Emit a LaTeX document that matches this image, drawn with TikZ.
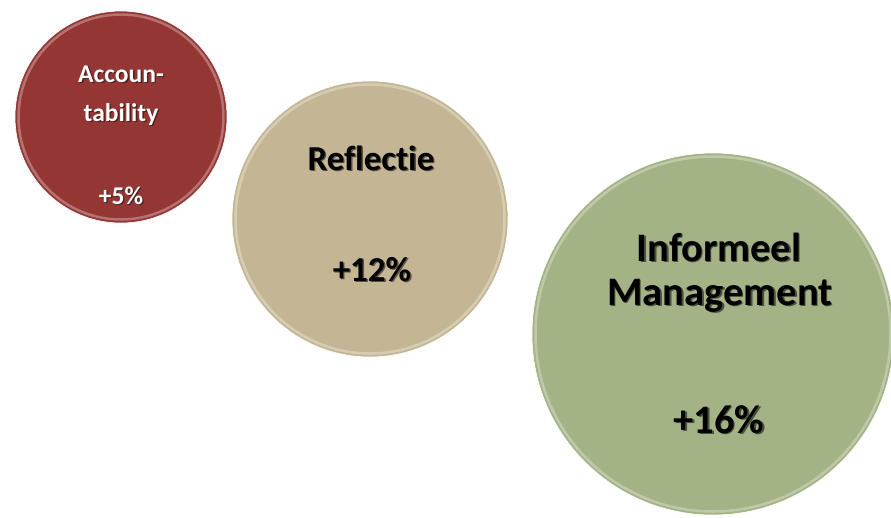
\documentclass[tikz,border=0pt]{standalone}
\usepackage{fontspec}
\setmainfont{Carlito}[Ligatures=NoCommon]
\usetikzlibrary{positioning}

\definecolor{accred}{RGB}{148,54,52}
\definecolor{refltan}{RGB}{196,182,148}
\definecolor{infogreen}{RGB}{163,179,134}

\tikzstyle{bubble} = [circle, inner sep=0pt, outer sep=0pt, draw=white, line width=0.6pt]
\tikzstyle{rim} = [circle, inner sep=0pt, draw=white, draw opacity=0.3, line width=2.5pt]
\tikzstyle{caption} = [anchor=base, inner sep=0pt, font=\bfseries]

% text with a soft offset shadow behind it
\newcommand{\glow}[2]{{\color{#1}\rlap{\kern1.4pt\raisebox{-1.4pt}{#2}}}#2}

\begin{document}
\begin{tikzpicture}[x=1pt,y=-1pt]
    \useasboundingbox (0,0) rectangle (891,517);

    % the three circles, small to large
    \node[bubble, fill=accred, minimum size=212pt] (acc) at (121,117) {};
    \node[rim, minimum size=205pt] (accrim) at (acc.center) {};
    \node[bubble, fill=refltan, minimum size=276pt] (refl) at (370,219) {};
    \node[rim, minimum size=269pt] (reflrim) at (refl.center) {};
    \node[bubble, fill=infogreen, minimum size=362pt] (info) at (713,334) {};
    \node[rim, minimum size=355pt] (inforim) at (info.center) {};

    % Accountability
    \node[caption, text=white, font=\bfseries\fontsize{25.5}{30}\selectfont] (acctop) at (121,82) {\glow{accred!55!black}{Accoun-}};
    \node[caption, text=white, font=\bfseries\fontsize{25.5}{30}\selectfont] (accbot) at (121,121) {\glow{accred!55!black}{tability}};
    \node[caption, text=white, font=\bfseries\fontsize{25.5}{30}\selectfont] (accval) at (121,204) {\glow{accred!55!black}{+5\%}};

    % Reflectie
    \node[caption, font=\bfseries\fontsize{35}{40}\selectfont] (refltitle) at (371,170) {\glow{refltan!45!black}{Reflectie}};
    \node[caption, font=\bfseries\fontsize{35}{40}\selectfont] (reflval) at (372,281) {\glow{refltan!45!black}{+12\%}};

    % Informeel Management
    \node[caption, font=\bfseries\fontsize{40.5}{46}\selectfont] (infotop) at (719,261) {\glow{infogreen!45!black}{Informeel}};
    \node[caption, font=\bfseries\fontsize{40.5}{46}\selectfont] (infomid) at (720,305) {\glow{infogreen!45!black}{Management}};
    \node[caption, font=\bfseries\fontsize{40.5}{46}\selectfont] (infoval) at (719,433) {\glow{infogreen!45!black}{+16\%}};
\end{tikzpicture}
\end{document}
